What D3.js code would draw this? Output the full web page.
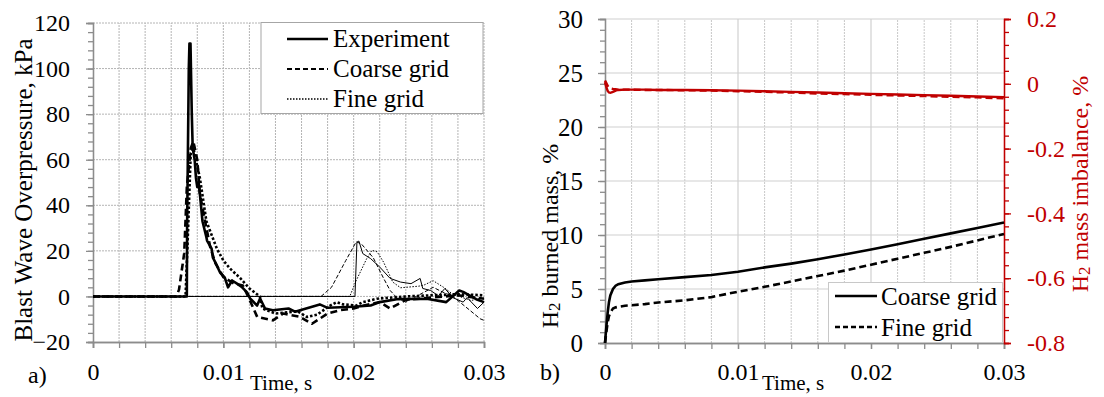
<!DOCTYPE html>
<html>
<head>
<meta charset="utf-8">
<script src="https://cdn.jsdelivr.net/npm/d3@7"></script>
<style>
  html, body { margin: 0; padding: 0; background: #fff; }
  svg text { font-family: "Liberation Serif", "Times New Roman", serif; }
</style>
</head>
<body>
<svg id="chart" width="1104" height="397"></svg>
<script>
// ---------- Panel a) blast wave overpressure (kPa) vs time (s) ----------
// thick lines: first gauge, thin lines: second gauge
const expNear = [[0,0],[0.0072,0],[0.00722,30],[0.00735,100],[0.0074,111],[0.00748,111],[0.00758,80],[0.00765,65],[0.0078,60],[0.0079,52],[0.008,48],[0.0081,50],[0.0082,45],[0.0084,33],[0.0087,26],[0.00875,24.5],[0.0091,21],[0.0092,17],[0.0095,13.6],[0.00975,10.5],[0.0101,8.4],[0.01036,4],[0.01067,7],[0.01105,5.6],[0.01144,4],[0.01182,1.8],[0.01205,-0.9],[0.01259,-4],[0.01282,-0.9],[0.0132,-5.3],[0.0138,-6.1],[0.015,-5.3],[0.0155,-6.7],[0.0174,-3.5],[0.018,-5],[0.02,-4.5],[0.0213,-4],[0.022,-2.5],[0.0233,-1.2],[0.0256,-1],[0.0271,-2.5],[0.0281,2.6],[0.0284,2],[0.0294,-1.2],[0.03,-2.5]];
const coarseNear = [[0,0],[0.0064,0],[0.0066,3],[0.007,19],[0.0072,48],[0.0075,65],[0.0077,68],[0.008,60],[0.0082,45],[0.0086,33],[0.009,21.5],[0.0094,14.5],[0.01,8.5],[0.0108,5.7],[0.0115,4.8],[0.0119,0],[0.0126,-9],[0.0138,-10.5],[0.0146,-7.5],[0.0159,-9],[0.0168,-12],[0.018,-7.5],[0.019,-6],[0.02,-5.3],[0.0207,-4.1],[0.022,-2.5],[0.0228,-5.3],[0.024,-1.5],[0.026,-0.5],[0.028,0.5],[0.03,-1]];
const fineNear = [[0,0],[0.0071,0],[0.0073,30],[0.0075,63],[0.0077,65],[0.0082,52],[0.0087,33],[0.0095,21],[0.01,15.8],[0.0105,12.3],[0.0113,8],[0.012,3.5],[0.0128,0],[0.013,-5.3],[0.014,-7.5],[0.0157,-6.5],[0.0164,-9],[0.0172,-8],[0.0182,-4],[0.0187,-2.5],[0.0192,-3.5],[0.0202,-4],[0.0207,-2.5],[0.0218,-1],[0.024,0],[0.026,0.5],[0.028,1],[0.03,0.5]];
const expFar = [[0,0],[0.0201,0],[0.02025,23.8],[0.0204,24.3],[0.0207,18.8],[0.0213,16.6],[0.022,12.9],[0.0228,7.9],[0.0236,6.3],[0.0244,5.6],[0.0251,7.9],[0.0253,3.5],[0.0259,2.6],[0.0265,0.3],[0.027,3.5],[0.0276,-0.5],[0.0284,-2.5],[0.0287,-0.5],[0.0295,-5.3],[0.03,-2.5]];
const coarseFar = [[0,0],[0.0175,0],[0.0183,4],[0.0194,15.8],[0.0202,24],[0.0206,23],[0.0215,17],[0.0223,7.9],[0.0228,2.6],[0.0233,-0.5],[0.0240,-2.5],[0.0248,0],[0.0261,4],[0.0268,2],[0.0276,0],[0.0289,-6],[0.0297,-9.8],[0.03,-10.5]];
const fineFar = [[0,0],[0.0197,0],[0.0202,7],[0.021,16.6],[0.0214,20.2],[0.0218,19.6],[0.0223,15],[0.023,6.3],[0.0236,3.8],[0.025,4.5],[0.0254,5],[0.0261,6.9],[0.0269,4],[0.0276,1],[0.029,-1.8],[0.03,-0.5]];
const legendA = ["Experiment", "Coarse grid", "Fine grid"];
const xTicksA = [0, 0.01, 0.02, 0.03];
const yTicksA = [-20, 0, 20, 40, 60, 80, 100, 120];

// ---------- Panel b) H2 burned mass (%) and mass imbalance (%) ----------
const timeB = [0,0.0001,0.0002,0.0003,0.0004,0.0006,0.0008,0.001,0.0015,0.002,0.003,0.004,0.006,0.008,0.01,0.012,0.014,0.016,0.018,0.02,0.022,0.024,0.026,0.028,0.03];
const burnedCoarse = [0,1.5,2.8,3.8,4.4,5.0,5.3,5.45,5.6,5.7,5.8,5.9,6.1,6.3,6.6,7.0,7.35,7.75,8.2,8.65,9.15,9.65,10.15,10.65,11.15];
const burnedFine = [0,1.0,1.9,2.5,2.8,3.2,3.3,3.35,3.45,3.5,3.6,3.75,3.95,4.25,4.75,5.2,5.7,6.2,6.7,7.25,7.8,8.35,8.9,9.5,10.1];
const imbalanceCoarse = [0.005,-0.01,-0.022,-0.027,-0.028,-0.025,-0.021,-0.019,-0.018,-0.018,-0.018,-0.019,-0.019,-0.02,-0.021,-0.023,-0.025,-0.027,-0.029,-0.031,-0.033,-0.035,-0.037,-0.039,-0.041];
const imbalanceFine = [0.01,0.002,-0.006,-0.011,-0.014,-0.016,-0.017,-0.018,-0.018,-0.018,-0.019,-0.019,-0.02,-0.021,-0.023,-0.025,-0.027,-0.03,-0.032,-0.034,-0.036,-0.038,-0.04,-0.042,-0.045];
const legendB = ["Coarse grid", "Fine grid"];
const xTicksB = [0, 0.01, 0.02, 0.03];
const yTicksB = [0, 5, 10, 15, 20, 25, 30];
const yTicksB2 = [-0.8, -0.6, -0.4, -0.2, 0, 0.2];

const svg = d3.select("#chart");
const AXIS = "#8c8c8c";
const GRID = "#b4b4b4";
const RED = "#c00000";
const range = (a, b, s) => d3.range(Math.round((b - a) / s) + 1).map(i => +(a + i * s).toFixed(6));

// ======================= Panel a =======================
const xA = d3.scaleLinear().domain([0, 0.03]).range([93, 484]);
const yA = d3.scaleLinear().domain([-20, 120]).range([342, 23]);
const gA = svg.append("g");

// dotted grid
gA.append("g").selectAll("line").data(range(0.002, 0.03, 0.002)).join("line")
  .attr("x1", d => xA(d)).attr("x2", d => xA(d)).attr("y1", yA(-20)).attr("y2", yA(120))
  .attr("stroke", GRID).attr("stroke-width", 1).attr("stroke-dasharray", "2,1");
gA.append("g").selectAll("line").data(range(0, 120, 20)).join("line")
  .attr("x1", xA(0)).attr("x2", xA(0.03)).attr("y1", d => yA(d)).attr("y2", d => yA(d))
  .attr("stroke", GRID).attr("stroke-width", 1).attr("stroke-dasharray", "2,1");

// axes
function styleAxis(g, color) {
  g.select(".domain").attr("stroke", color).attr("stroke-width", 1.3);
  g.selectAll(".tick line").attr("stroke", color).attr("stroke-width", 1.3);
}
const yMinorA = gA.append("g").attr("transform", `translate(${xA(0)},0)`)
  .call(d3.axisLeft(yA).tickValues(range(-20, 120, 4)).tickSize(5).tickFormat(""));
styleAxis(yMinorA, AXIS);
const yAxA = gA.append("g").attr("transform", `translate(${xA(0)},0)`)
  .call(d3.axisLeft(yA).tickValues(yTicksA).tickSize(7).tickPadding(16).tickFormat(d3.format("d")));
styleAxis(yAxA, AXIS);
yAxA.selectAll("text").attr("font-size", 24).attr("fill", "#000").attr("font-family", "Liberation Serif");

const xMinorA = gA.append("g").attr("transform", `translate(0,${yA(-20)})`)
  .call(d3.axisBottom(xA).tickValues(range(0, 0.03, 0.002)).tickSize(6).tickFormat(""));
styleAxis(xMinorA, AXIS);
const xAxA = gA.append("g").attr("transform", `translate(0,${yA(-20)})`)
  .call(d3.axisBottom(xA).tickValues(xTicksA).tickSize(6).tickFormat(d => d === 0 ? "0" : d3.format(".2f")(d)));
styleAxis(xAxA, AXIS);
xAxA.selectAll("text").attr("font-size", 24).attr("fill", "#000").attr("dy", null).attr("y", 38).attr("font-family", "Liberation Serif");

// series
const lineA = d3.line().x(d => xA(d[0])).y(d => yA(d[1]));
const seriesA = [
  { data: fineFar,   w: 1,   dash: "1.5,1.5" },
  { data: coarseFar, w: 1,   dash: "4,2" },
  { data: expFar,    w: 1,   dash: null },
  { data: fineNear,  w: 2.6, dash: "2.5,2" },
  { data: coarseNear,w: 2.6, dash: "7,4" },
  { data: expNear,   w: 2.6, dash: null }
];
gA.append("g").selectAll("path").data(seriesA).join("path")
  .attr("d", s => lineA(s.data)).attr("fill", "none").attr("stroke", "#000")
  .attr("stroke-width", s => s.w).attr("stroke-dasharray", s => s.dash)
  .attr("stroke-linejoin", "round");

// legend
const legA = gA.append("g");
legA.append("rect").attr("x", 261).attr("y", 22.5).attr("width", 222).attr("height", 91)
  .attr("fill", "#fff").attr("stroke", "#a6a6a6").attr("stroke-width", 1);
const legStylesA = [{ w: 2.6, dash: null }, { w: 2.2, dash: "5,3" }, { w: 1.4, dash: "1.5,1.5" }];
legendA.forEach((name, i) => {
  const base = 47 + i * 30;
  legA.append("line").attr("x1", 287).attr("x2", 328).attr("y1", base - 8).attr("y2", base - 8)
    .attr("stroke", "#000").attr("stroke-width", legStylesA[i].w).attr("stroke-dasharray", legStylesA[i].dash);
  legA.append("text").attr("x", 333).attr("y", base).attr("font-size", 25).text(name);
});

// labels
svg.append("text").attr("transform", "translate(32,190) rotate(-90)").attr("text-anchor", "middle")
  .attr("font-size", 25).text("Blast Wave Overpressure, kPa");
svg.append("text").attr("x", 250).attr("y", 390).attr("font-size", 21).text("Time, s");
svg.append("text").attr("x", 28).attr("y", 383).attr("font-size", 24).text("a)");

// ======================= Panel b =======================
const xB = d3.scaleLinear().domain([0, 0.03]).range([605, 1004]);
const yB = d3.scaleLinear().domain([0, 30]).range([343, 19]);
const yB2 = d3.scaleLinear().domain([-0.8, 0.2]).range([343, 19]);
const gB = svg.append("g");

// grid: dotted minor verticals, solid majors
gB.append("g").selectAll("line").data(range(0.002, 0.028, 0.002).filter(d => Math.abs(d - 0.01) > 1e-9 && Math.abs(d - 0.02) > 1e-9)).join("line")
  .attr("x1", d => xB(d)).attr("x2", d => xB(d)).attr("y1", yB(0)).attr("y2", yB(30))
  .attr("stroke", "#c8c8c8").attr("stroke-width", 1).attr("stroke-dasharray", "2,1");
gB.append("g").selectAll("line").data([0.01, 0.02]).join("line")
  .attr("x1", d => xB(d)).attr("x2", d => xB(d)).attr("y1", yB(0)).attr("y2", yB(30))
  .attr("stroke", "#d0d0d0").attr("stroke-width", 1.2);
gB.append("g").selectAll("line").data(yTicksB.slice(1)).join("line")
  .attr("x1", xB(0)).attr("x2", xB(0.03)).attr("y1", d => yB(d)).attr("y2", d => yB(d))
  .attr("stroke", "#d0d0d0").attr("stroke-width", 1.2);

const yMinorB = gB.append("g").attr("transform", `translate(${xB(0)},0)`)
  .call(d3.axisLeft(yB).tickValues(d3.range(0, 31, 1)).tickSize(5).tickFormat(""));
styleAxis(yMinorB, AXIS);
const yAxB = gB.append("g").attr("transform", `translate(${xB(0)},0)`)
  .call(d3.axisLeft(yB).tickValues(yTicksB).tickSize(7).tickPadding(15).tickFormat(d3.format("d")));
styleAxis(yAxB, AXIS);
yAxB.selectAll("text").attr("font-size", 25).attr("fill", "#000").attr("font-family", "Liberation Serif");

const xMinorB = gB.append("g").attr("transform", `translate(0,${yB(0)})`)
  .call(d3.axisBottom(xB).tickValues(range(0, 0.03, 0.002)).tickSize(6).tickFormat(""));
styleAxis(xMinorB, AXIS);
const xAxB = gB.append("g").attr("transform", `translate(0,${yB(0)})`)
  .call(d3.axisBottom(xB).tickValues(xTicksB).tickSize(6).tickFormat(d => d === 0 ? "0" : d3.format(".2f")(d)));
styleAxis(xAxB, AXIS);
xAxB.selectAll("text").attr("font-size", 24).attr("fill", "#000").attr("dy", null).attr("y", 37).attr("font-family", "Liberation Serif");

const yMinorB2 = gB.append("g").attr("transform", `translate(${xB(0.03)},0)`)
  .call(d3.axisRight(yB2).tickValues(range(-0.8, 0.2, 0.04)).tickSize(5).tickFormat(""));
styleAxis(yMinorB2, RED);
const yAxB2 = gB.append("g").attr("transform", `translate(${xB(0.03)},0)`)
  .call(d3.axisRight(yB2).tickValues(yTicksB2).tickSize(7).tickPadding(16).tickFormat(d => d === 0 ? "0" : d3.format(".1f")(d).replace("−", "-")));
styleAxis(yAxB2, RED);
yAxB2.selectAll("text").attr("font-size", 24).attr("fill", RED).attr("font-family", "Liberation Serif");

// series
const lineB = d3.line().x(d => xB(d[0])).y(d => yB(d[1]));
const lineB2 = d3.line().x(d => xB(d[0])).y(d => yB2(d[1]));
const zipT = vals => timeB.map((t, i) => [t, vals[i]]);
gB.append("path").attr("d", lineB2(zipT(imbalanceFine))).attr("fill", "none")
  .attr("stroke", RED).attr("stroke-width", 2.4).attr("stroke-dasharray", "7,4");
gB.append("path").attr("d", lineB2(zipT(imbalanceCoarse))).attr("fill", "none")
  .attr("stroke", RED).attr("stroke-width", 2.4);
gB.append("path").attr("d", lineB(zipT(burnedFine))).attr("fill", "none")
  .attr("stroke", "#000").attr("stroke-width", 2.6).attr("stroke-dasharray", "7,4");
gB.append("path").attr("d", lineB(zipT(burnedCoarse))).attr("fill", "none")
  .attr("stroke", "#000").attr("stroke-width", 2.6);

// legend
const legB = gB.append("g");
legB.append("rect").attr("x", 828.5).attr("y", 282.5).attr("width", 174).attr("height", 60)
  .attr("fill", "#fff").attr("stroke", "#c8c8c8").attr("stroke-width", 1);
const legStylesB = [{ w: 2.6, dash: null }, { w: 2.6, dash: "5,3" }];
legendB.forEach((name, i) => {
  const base = 305 + i * 31;
  legB.append("line").attr("x1", 835).attr("x2", 877).attr("y1", base - 9).attr("y2", base - 9)
    .attr("stroke", "#000").attr("stroke-width", legStylesB[i].w).attr("stroke-dasharray", legStylesB[i].dash);
  legB.append("text").attr("x", 881).attr("y", base).attr("font-size", 25).text(name);
});

// labels
const tB = svg.append("text").attr("transform", "translate(558,236) rotate(-90)").attr("text-anchor", "middle")
  .attr("font-size", 24);
tB.append("tspan").text("H");
tB.append("tspan").attr("font-size", 17).attr("dy", 2).text("2");
tB.append("tspan").attr("dy", -2).text(" burned mass, %");

const tR = svg.append("text").attr("transform", "translate(1088,184) rotate(-90)").attr("text-anchor", "middle")
  .attr("font-size", 24).attr("fill", RED);
tR.append("tspan").text("H");
tR.append("tspan").attr("font-size", 17).attr("dy", 2).text("2");
tR.append("tspan").attr("dy", -2).text(" mass imbalance, %");

svg.append("text").attr("x", 762).attr("y", 390).attr("font-size", 21).text("Time, s");
svg.append("text").attr("x", 540).attr("y", 380).attr("font-size", 24).text("b)");
</script>
</body>
</html>
